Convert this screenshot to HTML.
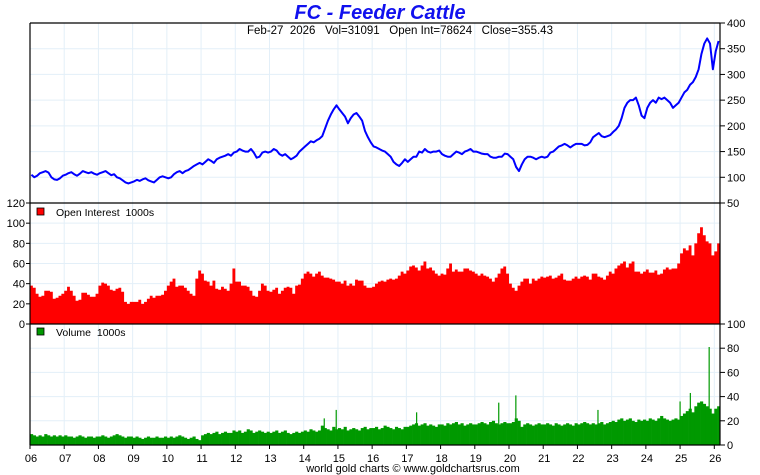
<!DOCTYPE html>
<html><head><meta charset="utf-8">
<style>
html,body{margin:0;padding:0;background:#fff;}
svg{display:block;font-family:"Liberation Sans",sans-serif;}
</style></head>
<body>
<svg id="chart" width="760" height="475" viewBox="0 0 760 475" xmlns="http://www.w3.org/2000/svg">
<text x="380" y="19" text-anchor="middle" font-size="20" font-weight="bold" font-style="italic" fill="#1010ee">FC  -  Feeder Cattle</text>
<g id="grid"></g>
<g id="marks"></g>
<g id="axes"></g>
<text x="400" y="34" text-anchor="middle" font-size="11.5" fill="#000">Feb-27&#160;&#160;2026&#160;&#160;&#160;Vol=31091&#160;&#160;&#160;Open Int=78624&#160;&#160;&#160;Close=355.43</text>
<text x="413" y="472" text-anchor="middle" font-size="11" fill="#000">world gold charts © www.goldchartsrus.com</text>
</svg>
<script>
const priceVals=[
105,100,103,108,110,112,109,100,96,95,98,103,
105,108,110,106,103,107,112,110,108,110,107,105,
108,110,112,108,104,106,100,98,94,90,88,90,
92,95,93,96,98,94,92,90,95,100,102,100,
98,100,106,110,112,108,112,114,118,122,125,128,
125,130,135,132,128,135,138,140,142,145,142,148,
150,155,152,150,150,155,148,138,140,148,150,148,
150,155,152,145,142,145,140,135,138,142,150,155,
160,165,170,168,172,175,180,195,210,222,232,240,
232,225,218,205,215,222,225,218,210,190,178,168,
160,158,155,152,150,145,140,130,125,122,128,135,
130,135,140,140,150,148,155,150,148,150,150,152,
145,142,140,140,145,150,148,145,150,152,155,150,
150,148,146,145,145,140,138,138,140,140,146,145,
140,135,120,112,125,135,140,140,138,135,138,140,
138,140,148,150,155,160,162,165,162,158,162,165,
165,165,162,163,168,178,182,186,180,178,180,182,
188,193,200,215,235,245,250,250,255,240,220,215,
235,245,250,245,255,252,255,250,245,235,240,245,
255,265,270,280,285,295,310,340,360,370,360,310,
345,365];
const oiVals=[
38,36,30,27,28,33,33,32,25,26,28,30,
33,37,33,28,23,24,31,31,29,27,27,30,
38,41,40,38,34,33,35,36,32,22,20,22,
22,22,24,20,22,25,28,26,28,28,29,33,
38,42,45,37,38,38,36,33,30,28,45,53,
50,43,42,38,43,35,34,37,35,33,40,55,
42,42,38,38,37,33,28,27,33,40,38,33,
32,34,36,30,33,36,37,36,30,38,39,45,
50,52,50,47,50,52,48,46,46,45,44,42,
42,40,43,38,40,38,44,43,43,38,36,36,
37,40,42,43,42,44,45,44,45,48,52,50,
53,57,58,56,53,58,62,55,56,53,50,48,
50,49,55,60,52,54,52,52,55,55,53,52,
50,48,50,48,47,45,42,46,50,55,57,50,
40,36,33,38,42,45,45,40,45,43,45,47,
46,47,48,45,46,48,50,44,43,43,45,47,
45,47,48,47,44,50,50,47,46,44,48,52,
50,55,58,60,62,56,60,62,52,52,50,52,
54,51,51,53,49,50,54,56,54,55,55,60,
70,75,73,78,68,80,90,96,88,82,80,68,
72,80];
const volVals=[
9,8,7,8,7,9,8,7,8,7,8,7,
8,7,7,6,7,8,7,6,7,7,6,7,
7,8,7,6,7,8,9,8,7,6,7,7,
6,7,6,5,6,7,6,6,7,6,6,7,
6,7,6,7,8,7,6,5,6,7,5,4,
8,9,10,9,10,11,9,10,11,10,10,12,
11,12,10,11,13,12,10,11,12,11,10,11,
10,11,12,10,11,12,10,9,10,11,10,11,
12,11,13,12,11,12,16,14,13,12,15,13,
14,13,15,12,13,14,13,12,14,15,13,14,
14,15,13,14,16,15,14,13,15,14,13,15,
15,16,17,18,16,17,18,16,17,16,15,17,
17,16,18,17,18,19,17,18,16,17,18,17,
17,18,19,18,17,19,20,18,17,18,19,18,
18,19,22,20,15,17,18,17,16,17,18,17,
17,18,17,16,18,17,16,17,18,17,16,18,
17,18,19,18,17,18,17,18,19,17,18,19,
20,19,21,22,20,21,22,20,19,21,20,21,
20,22,21,20,22,24,22,21,20,21,22,21,
24,26,28,30,27,32,35,36,34,32,30,26,
30,32];
const spikeDates=[2014.6,2014.95,2017.3,2019.7,2020.2,2022.6,2025.0,2025.3,2025.85];
const spikeVals=[22,29,27,35,41,29,36,43,81];
const yearLabels=["06","07","08","09","10","11","12","13","14","15","16","17","18","19","20","21","22","23","24","25","26"];
const priceTicks=[50,100,150,200,250,300,350,400];
const oiTicks=[0,20,40,60,80,100,120];
const volTicks=[0,20,40,60,80,100];

const NS="http://www.w3.org/2000/svg";
const L=30,R=720,T=23,P1=203,P2=324,P3=445;
const x0=2006,x1=2006+20+2/12;
function xs(t){return L+(t-x0)/(x1-x0)*(R-L);}
function yPrice(v){return P1-(v-50)/350*(P1-T);}
function yOI(v){return P2-v/120*(P2-P1);}
function yVol(v){return P3-v/100*(P3-P2);}
function mk(tag,attrs,parent){const e=document.createElementNS(NS,tag);for(const k in attrs)e.setAttribute(k,attrs[k]);parent.appendChild(e);return e;}
const grid=document.getElementById('grid'),marks=document.getElementById('marks'),axes=document.getElementById('axes');
const gc="#e3eff8";
yearLabels.forEach((lab,i)=>{const x=xs(2006+i);
 const g=mk('line',{x1:x,x2:x,y1:T,y2:P3,stroke:gc,'stroke-width':1},grid);
 
 const t=mk('text',{x:x+1,y:462,'text-anchor':'middle','font-size':11},axes);t.textContent=lab;
 
 mk('line',{x1:x,x2:x,y1:P3,y2:P3+4,stroke:'#000'},axes);
});
priceTicks.forEach(v=>{const y=yPrice(v);
 const g=mk('line',{x1:L,x2:R,y1:y,y2:y,stroke:gc},grid);
 mk('line',{x1:R,x2:R+5,y1:y,y2:y,stroke:'#000'},axes);
 const t=mk('text',{x:R+7,y:y+4,'font-size':11},axes);t.textContent=v;
 
});
oiTicks.forEach(v=>{const y=yOI(v);
 const g=mk('line',{x1:L,x2:R,y1:y,y2:y,stroke:gc},grid);
 mk('line',{x1:L-4,x2:L,y1:y,y2:y,stroke:'#000'},axes);
 const t=mk('text',{x:L-5,y:y+4,'font-size':11,'text-anchor':'end'},axes);t.textContent=v;
 
});
volTicks.forEach(v=>{const y=yVol(v);
 const g=mk('line',{x1:L,x2:R,y1:y,y2:y,stroke:gc},grid);
 mk('line',{x1:R,x2:R+5,y1:y,y2:y,stroke:'#000'},axes);
 const t=mk('text',{x:R+7,y:y+4,'font-size':11},axes);t.textContent=v;
 
});
const mw=(R-L)/(x1-x0)/12;
let d="M"+L+","+P2;
oiVals.forEach((v,i)=>{const xa=xs(2006+i/12),xb=Math.min(R,xa+mw);const y=yOI(v);d+=" L"+xa+","+y+" L"+xb+","+y;});
d+=" L"+R+","+P2+" Z";
const oi=mk('path',{d:d,fill:'#ff0000'},marks);

volVals.forEach((v,i)=>{const xa=xs(2006+i/12);
 const b=mk('rect',{x:xa,y:yVol(v),width:Math.min(mw,R-xa)+0.3,height:P3-yVol(v),fill:'#009900'},marks);
 
});
spikeDates.forEach((t,i)=>{const x=xs(t);
 const s=mk('line',{x1:x,x2:x,y1:P3,y2:yVol(spikeVals[i]),stroke:'#009900','stroke-width':1.2},marks);
 
});
const pts=priceVals.map((v,i)=>xs(2006+(i+0.5)/12)+","+yPrice(v)).join(" ");
const pl=mk('polyline',{points:pts,fill:'none',stroke:'#0000ff','stroke-width':2,'stroke-linejoin':'round'},marks);

[[L,T,R,T],[L,T,L,P3],[R,T,R,P3],[L,P3,R,P3],[L,P1,R,P1],[L,P2,R,P2]].forEach(a=>{
 const f=mk('line',{x1:a[0],y1:a[1],x2:a[2],y2:a[3],stroke:'#000','stroke-width':1.2},axes);
 
});
const l1=mk('rect',{x:37,y:208,width:7,height:7,fill:'#ff0000',stroke:'#000','stroke-width':0.8},axes);

const lt1=mk('text',{x:56,y:216,'font-size':10.5},axes);lt1.textContent="Open Interest\u00a0\u00a01000s";

const l2=mk('rect',{x:37,y:328,width:7,height:7,fill:'#009900',stroke:'#000','stroke-width':0.8},axes);

const lt2=mk('text',{x:56,y:336,'font-size':10.5},axes);lt2.textContent="Volume\u00a0\u00a01000s";

</script>
</body></html>
